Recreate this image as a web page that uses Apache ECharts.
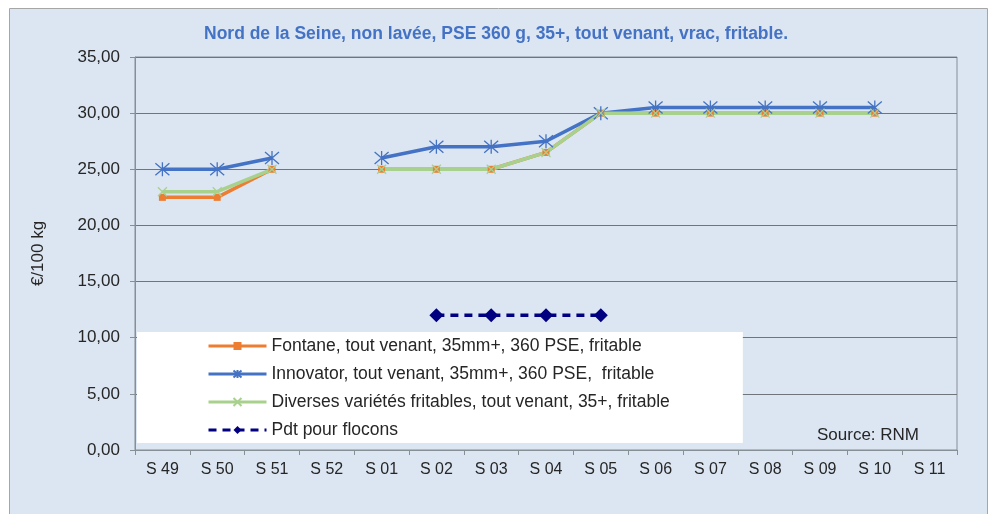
<!DOCTYPE html>
<html>
<head>
<meta charset="utf-8">
<script src="https://cdn.jsdelivr.net/npm/echarts@6/dist/echarts.min.js"></script>
<style>
  html, body { margin: 0; padding: 0; background: #fff; }
  #chart { width: 992px; height: 514px; }
</style>
</head>
<body>
<div id="chart"></div>
<script>
// semaines
const weeks = ['S 49', 'S 50', 'S 51', 'S 52', 'S 01', 'S 02', 'S 03', 'S 04', 'S 05', 'S 06', 'S 07', 'S 08', 'S 09', 'S 10', 'S 11']

const fontane = [22.5, 22.5, 25, null, 25, 25, 25, 26.5, 30, 30, 30, 30, 30, 30, null]
const innovator = [25, 25, 26, null, 26, 27, 27, 27.5, 30, 30.5, 30.5, 30.5, 30.5, 30.5, null]
const diverses = [23, 23, 25, null, 25, 25, 25, 26.5, 30, 30, 30, 30, 30, 30, null]
const flocons = [null, null, null, null, null, 12, 12, 12, 12, null, null, null, null, null, null]

const seriesNames = [
  'Fontane, tout venant, 35mm+, 360 PSE, fritable',
  'Innovator, tout venant, 35mm+, 360 PSE,  fritable',
  'Diverses variétés fritables, tout venant, 35+, fritable',
  'Pdt pour flocons'
]

const font = "'Liberation Sans', Arial, sans-serif"
const textColor = '#262626'

const chart = echarts.init(document.getElementById('chart'))

chart.setOption({
  animation: false,
  backgroundColor: '#fff',
  textStyle: { fontFamily: font },
  graphic: [{
    type: 'rect',
    z: -10,
    shape: { x: 9.5, y: 8.5, width: 978, height: 520 },
    style: { fill: '#dce6f2', stroke: '#a6a6a6', lineWidth: 1 }
  }, {
    type: 'text',
    left: 817,
    top: 427,
    z: 10,
    style: { text: 'Source: RNM', fill: textColor, font: '17px ' + font }
  }],
  title: {
    text: 'Nord de la Seine, non lavée, PSE 360 g, 35+, tout venant, vrac, fritable.',
    left: 'center',
    top: 20,
    textStyle: { color: '#4472c4', fontSize: 17.5, fontWeight: 'bold', fontFamily: font }
  },
  legend: {
    orient: 'vertical',
    left: 137,
    top: 332,
    padding: [5, 73, 4, 70],
    backgroundColor: '#fff',
    itemWidth: 58,
    itemHeight: 10,
    itemGap: 10,
    lineStyle: { width: 3 },
    textStyle: { color: textColor, fontSize: 17.5, fontFamily: font },
    data: seriesNames
  },
  grid: {
    left: 135,
    right: 35,
    top: 57,
    bottom: 64,
    show: true,
    backgroundColor: 'transparent',
    borderColor: '#868e96',
    borderWidth: 1
  },
  xAxis: {
    type: 'category',
    data: weeks,
    boundaryGap: true,
    axisLine: { lineStyle: { color: '#868e96', width: 1 } },
    axisTick: { show: true, interval: 0, length: 5, lineStyle: { color: '#868e96' } },
    axisLabel: { color: textColor, fontSize: 16, margin: 12, interval: 0 }
  },
  yAxis: {
    type: 'value',
    min: 0,
    max: 35,
    interval: 5,
    name: '€/100 kg',
    nameLocation: 'middle',
    nameRotate: 90,
    nameGap: 88,
    nameTextStyle: { color: textColor, fontSize: 17 },
    axisLine: { show: true, lineStyle: { color: '#868e96' } },
    axisTick: { show: true, length: 5, lineStyle: { color: '#868e96' } },
    axisLabel: {
      color: textColor,
      fontSize: 17,
      margin: 15,
      formatter: v => v.toFixed(2).replace('.', ',')
    },
    splitLine: { lineStyle: { color: '#6f757b', width: 1 } }
  },
  series: [{
    name: seriesNames[0],
    type: 'line',
    data: fontane,
    symbol: 'rect',
    symbolSize: 7,
    lineStyle: { color: '#ed7d31', width: 3.5 },
    itemStyle: { color: '#ed7d31' }
  }, {
    name: seriesNames[1],
    type: 'line',
    data: innovator,
    symbol: 'path://M0,-7L0,7M-6,-6L6,6M-6,6L6,-6',
    symbolSize: 14,
    lineStyle: { color: '#4472c4', width: 3.5 },
    itemStyle: { color: 'none', borderColor: '#4472c4', borderWidth: 1.3 }
  }, {
    name: seriesNames[2],
    type: 'line',
    data: diverses,
    symbol: 'path://M-5,-5L5,5M-5,5L5,-5',
    symbolSize: 9,
    lineStyle: { color: '#a9d18e', width: 3.5 },
    itemStyle: { color: 'none', borderColor: '#a9d18e', borderWidth: 1.3 }
  }, {
    name: seriesNames[3],
    type: 'line',
    data: flocons,
    symbol: 'diamond',
    symbolSize: 14,
    lineStyle: { color: '#000080', width: 3.5, type: [8, 6] },
    itemStyle: { color: '#000080' }
  }]
})
</script>
</body>
</html>
